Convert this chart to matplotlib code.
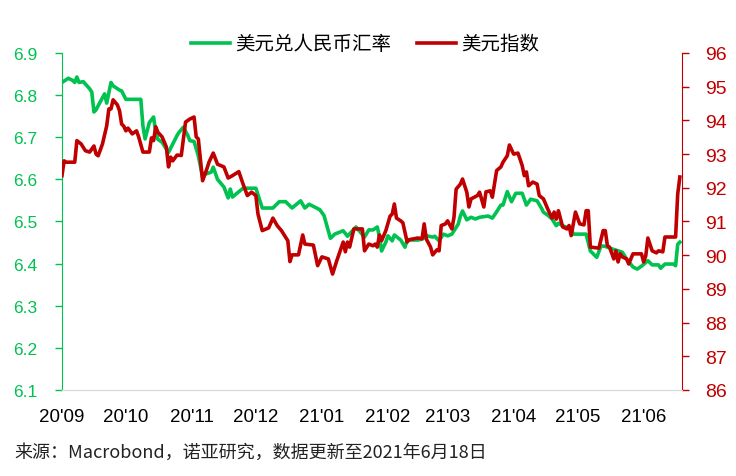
import matplotlib
matplotlib.use("Agg")
import matplotlib.pyplot as plt
import matplotlib.dates as mdates
import pandas as pd

plt.rcParams['font.family'] = ['Liberation Sans', 'Noto Sans CJK SC', 'DejaVu Sans']

green = '#00C250'
red = '#C00000'

# 美元兑人民币汇率
cny_dates = ['2020-09-01', '2020-09-04', '2020-09-06', '2020-09-07', '2020-09-08', '2020-09-09',
             '2020-09-11', '2020-09-14', '2020-09-15', '2020-09-16', '2020-09-17', '2020-09-18',
             '2020-09-21', '2020-09-22', '2020-09-24', '2020-09-25', '2020-09-28', '2020-09-29',
             '2020-10-01', '2020-10-08', '2020-10-09', '2020-10-10', '2020-10-12', '2020-10-14',
             '2020-10-15', '2020-10-16', '2020-10-18', '2020-10-21', '2020-10-23', '2020-10-25',
             '2020-10-26', '2020-10-28', '2020-10-30', '2020-10-31', '2020-11-02', '2020-11-04',
             '2020-11-06', '2020-11-07', '2020-11-10', '2020-11-11', '2020-11-13', '2020-11-16',
             '2020-11-18', '2020-11-19', '2020-11-20', '2020-11-25', '2020-12-01', '2020-12-04',
             '2020-12-09', '2020-12-12', '2020-12-15', '2020-12-18', '2020-12-22', '2020-12-24',
             '2020-12-26', '2020-12-31', '2021-01-02', '2021-01-05', '2021-01-07', '2021-01-11',
             '2021-01-13', '2021-01-17', '2021-01-21', '2021-01-23', '2021-01-25', '2021-01-27',
             '2021-01-28', '2021-01-29', '2021-01-31', '2021-02-01', '2021-02-03', '2021-02-04',
             '2021-02-07', '2021-02-09', '2021-02-10', '2021-02-15', '2021-02-17', '2021-02-19',
             '2021-02-22', '2021-02-23', '2021-02-25', '2021-02-27', '2021-03-01', '2021-03-03',
             '2021-03-06', '2021-03-07', '2021-03-08', '2021-03-10', '2021-03-12', '2021-03-14',
             '2021-03-16', '2021-03-20', '2021-03-22', '2021-03-24', '2021-03-26', '2021-03-27',
             '2021-03-29', '2021-03-31', '2021-04-02', '2021-04-05', '2021-04-07', '2021-04-09',
             '2021-04-12', '2021-04-14', '2021-04-15', '2021-04-17', '2021-04-19', '2021-04-21',
             '2021-04-22', '2021-04-24', '2021-04-28', '2021-04-29', '2021-05-05', '2021-05-07',
             '2021-05-10', '2021-05-12', '2021-05-14', '2021-05-16', '2021-05-22', '2021-05-24',
             '2021-05-27', '2021-05-29', '2021-05-31', '2021-06-03', '2021-06-05', '2021-06-08',
             '2021-06-09', '2021-06-11', '2021-06-15', '2021-06-16', '2021-06-17', '2021-06-18']
cny_values = [6.830, 6.840, 6.835, 6.830, 6.843, 6.830,
              6.832, 6.815, 6.807, 6.760, 6.765, 6.775,
              6.803, 6.781, 6.830, 6.822, 6.812, 6.810,
              6.790, 6.790, 6.727, 6.696, 6.735, 6.748,
              6.712, 6.695, 6.688, 6.664, 6.684, 6.704,
              6.712, 6.724, 6.705, 6.692, 6.690, 6.656,
              6.605, 6.612, 6.617, 6.629, 6.600, 6.582,
              6.556, 6.577, 6.558, 6.579, 6.579, 6.532,
              6.532, 6.547, 6.547, 6.532, 6.549, 6.532,
              6.541, 6.528, 6.514, 6.460, 6.470, 6.478,
              6.465, 6.487, 6.463, 6.480, 6.480, 6.487,
              6.463, 6.430, 6.451, 6.466, 6.454, 6.468,
              6.456, 6.439, 6.456, 6.456, 6.458, 6.466,
              6.463, 6.465, 6.454, 6.470, 6.466, 6.470,
              6.494, 6.513, 6.525, 6.504, 6.510, 6.506,
              6.510, 6.513, 6.508, 6.523, 6.539, 6.539,
              6.571, 6.547, 6.567, 6.567, 6.539, 6.553,
              6.549, 6.532, 6.522, 6.515, 6.506, 6.490,
              6.496, 6.490, 6.482, 6.470, 6.470, 6.430,
              6.415, 6.442, 6.441, 6.437, 6.427, 6.411,
              6.392, 6.387, 6.394, 6.407, 6.397, 6.397,
              6.389, 6.399, 6.399, 6.395, 6.446, 6.451]

# 美元指数
dxy_dates = ['2020-09-01', '2020-09-02', '2020-09-03', '2020-09-07', '2020-09-08', '2020-09-10',
             '2020-09-12', '2020-09-14', '2020-09-16', '2020-09-17', '2020-09-18', '2020-09-20',
             '2020-09-22', '2020-09-23', '2020-09-24', '2020-09-25', '2020-09-27', '2020-09-28',
             '2020-09-29', '2020-09-30', '2020-10-01', '2020-10-02', '2020-10-04', '2020-10-06',
             '2020-10-07', '2020-10-09', '2020-10-12', '2020-10-13', '2020-10-14', '2020-10-15',
             '2020-10-16', '2020-10-18', '2020-10-20', '2020-10-21', '2020-10-22', '2020-10-23',
             '2020-10-25', '2020-10-27', '2020-10-29', '2020-10-31', '2020-11-02', '2020-11-03',
             '2020-11-04', '2020-11-06', '2020-11-08', '2020-11-09', '2020-11-11', '2020-11-13',
             '2020-11-16', '2020-11-18', '2020-11-20', '2020-11-23', '2020-11-25', '2020-11-27',
             '2020-11-29', '2020-12-01', '2020-12-02', '2020-12-04', '2020-12-07', '2020-12-09',
             '2020-12-11', '2020-12-13', '2020-12-16', '2020-12-17', '2020-12-18', '2020-12-21',
             '2020-12-23', '2020-12-24', '2020-12-28', '2020-12-30', '2021-01-01', '2021-01-04',
             '2021-01-06', '2021-01-08', '2021-01-11', '2021-01-12', '2021-01-13', '2021-01-14',
             '2021-01-16', '2021-01-20', '2021-01-21', '2021-01-23', '2021-01-25', '2021-01-26',
             '2021-01-27', '2021-01-28', '2021-01-29', '2021-01-31', '2021-02-02', '2021-02-03',
             '2021-02-04', '2021-02-05', '2021-02-07', '2021-02-08', '2021-02-10', '2021-02-11',
             '2021-02-15', '2021-02-17', '2021-02-18', '2021-02-19', '2021-02-21', '2021-02-22',
             '2021-02-24', '2021-02-25', '2021-02-26', '2021-02-28', '2021-03-01', '2021-03-03',
             '2021-03-04', '2021-03-05', '2021-03-07', '2021-03-08', '2021-03-10', '2021-03-11',
             '2021-03-12', '2021-03-15', '2021-03-16', '2021-03-18', '2021-03-19', '2021-03-21',
             '2021-03-22', '2021-03-24', '2021-03-26', '2021-03-27', '2021-03-29', '2021-03-30',
             '2021-04-01', '2021-04-03', '2021-04-04', '2021-04-05', '2021-04-06', '2021-04-07',
             '2021-04-08', '2021-04-10', '2021-04-12', '2021-04-13', '2021-04-15', '2021-04-17',
             '2021-04-19', '2021-04-20', '2021-04-21', '2021-04-22', '2021-04-24', '2021-04-26',
             '2021-04-27', '2021-04-28', '2021-04-30', '2021-05-02', '2021-05-04', '2021-05-05',
             '2021-05-06', '2021-05-07', '2021-05-11', '2021-05-13', '2021-05-14', '2021-05-15',
             '2021-05-16', '2021-05-18', '2021-05-19', '2021-05-20', '2021-05-21', '2021-05-22',
             '2021-05-24', '2021-05-25', '2021-05-27', '2021-05-31', '2021-06-01', '2021-06-02',
             '2021-06-03', '2021-06-05', '2021-06-07', '2021-06-08', '2021-06-10', '2021-06-11',
             '2021-06-15', '2021-06-16', '2021-06-17', '2021-06-18']
dxy_values = [92.36, 92.80, 92.76, 92.76, 93.40, 93.30,
              93.10, 93.06, 93.24, 93.00, 92.95, 93.30,
              93.84, 94.34, 94.34, 94.61, 94.46, 94.29,
              93.89, 93.83, 93.69, 93.77, 93.60, 93.69,
              93.51, 93.06, 93.06, 93.48, 93.40, 93.81,
              93.65, 93.51, 93.21, 92.62, 92.91, 92.80,
              92.97, 92.96, 93.95, 94.04, 94.10, 93.51,
              93.45, 92.21, 92.56, 92.76, 93.03, 92.70,
              92.62, 92.29, 92.36, 92.48, 92.11, 91.77,
              91.87, 91.77, 91.22, 90.73, 90.81, 91.10,
              90.88, 90.73, 90.43, 89.81, 90.01, 90.01,
              90.60, 90.33, 90.30, 89.69, 89.95, 89.89,
              89.44, 89.84, 90.39, 90.10, 90.39, 90.24,
              90.78, 90.78, 90.13, 90.33, 90.28, 90.33,
              90.24, 90.60, 90.43, 90.73, 91.16, 91.22,
              91.52, 91.10, 91.02, 90.96, 90.39, 90.46,
              90.51, 90.49, 90.93, 90.48, 90.24, 90.01,
              90.16, 90.13, 90.88, 90.93, 91.02, 90.78,
              91.13, 91.96, 92.11, 92.26, 91.87, 91.43,
              91.67, 91.77, 91.87, 91.43, 91.88, 91.91,
              91.72, 92.51, 92.62, 92.76, 92.95, 93.27,
              93.00, 93.03, 92.85, 92.66, 92.36, 92.47,
              92.06, 92.17, 92.11, 91.77, 91.67, 91.37,
              91.10, 91.28, 91.07, 91.32, 90.84, 90.78,
              90.88, 90.58, 91.28, 90.93, 90.90, 91.32,
              91.32, 90.24, 90.21, 90.73, 90.73, 90.28,
              90.24, 89.89, 90.13, 89.80, 90.04, 89.95,
              89.89, 89.74, 90.04, 90.04, 89.80, 89.98,
              90.51, 90.13, 90.07, 90.13, 90.10, 90.54,
              90.54, 90.54, 91.82, 92.32]

month_ticks = pd.date_range('2020-09-01', '2021-06-01', freq='MS')

fig = plt.figure(figsize=(7.36, 4.77), dpi=100)
ax = fig.add_axes([0.0842, 0.1803, 0.8424, 0.7065])
ax2 = ax.twinx()

l1, = ax.plot(pd.to_datetime(cny_dates), cny_values, color=green, lw=2.6, solid_joinstyle='round',
              label='美元兑人民币汇率')
l2, = ax2.plot(pd.to_datetime(dxy_dates), dxy_values, color=red, lw=2.6, solid_joinstyle='round',
               label='美元指数')

ax.set_xlim(pd.Timestamp('2020-09-01'), pd.Timestamp('2021-06-19'))
ax.set_ylim(6.1, 6.9)
ax.set_yticks([6.1, 6.2, 6.3, 6.4, 6.5, 6.6, 6.7, 6.8, 6.9])
ax.yaxis.set_major_formatter(plt.FormatStrFormatter('%.1f'))
ax2.set_ylim(86, 96)
ax2.set_yticks(range(86, 97))

ax.set_xticks(month_ticks)
ax.xaxis.set_major_formatter(mdates.DateFormatter("%y'%m"))
ax.tick_params(axis='x', length=0, pad=13, labelsize=13.5, labelcolor='black')
ax.tick_params(axis='y', direction='out', length=5, width=1, color=green, labelcolor=green,
               labelsize=12.5, pad=13)
ax2.tick_params(axis='y', direction='out', length=5, width=1, color=red, labelcolor=red,
                labelsize=14, pad=12)

for a in (ax, ax2):
    a.spines['top'].set_visible(False)
    a.spines['bottom'].set_color('#d9d9d9')
ax.spines['right'].set_visible(False)
ax.spines['left'].set_color(green)
ax2.spines['left'].set_visible(False)
ax2.spines['right'].set_color(red)

fig.legend(handles=[l1, l2], loc='center', bbox_to_anchor=(0.496, 0.906), ncol=2, frameon=False,
           handlelength=2.0, handletextpad=0.3, columnspacing=1.3,
           prop={'family': ['Noto Sans CJK SC'], 'size': 14})

fig.text(0.019, 0.051, '来源：Macrobond，诺亚研究，数据更新至2021年6月18日', fontsize=13,
         family=['Noto Sans CJK SC'], va='center', ha='left', color='#222222')

fig.savefig('out.png', dpi=100)
